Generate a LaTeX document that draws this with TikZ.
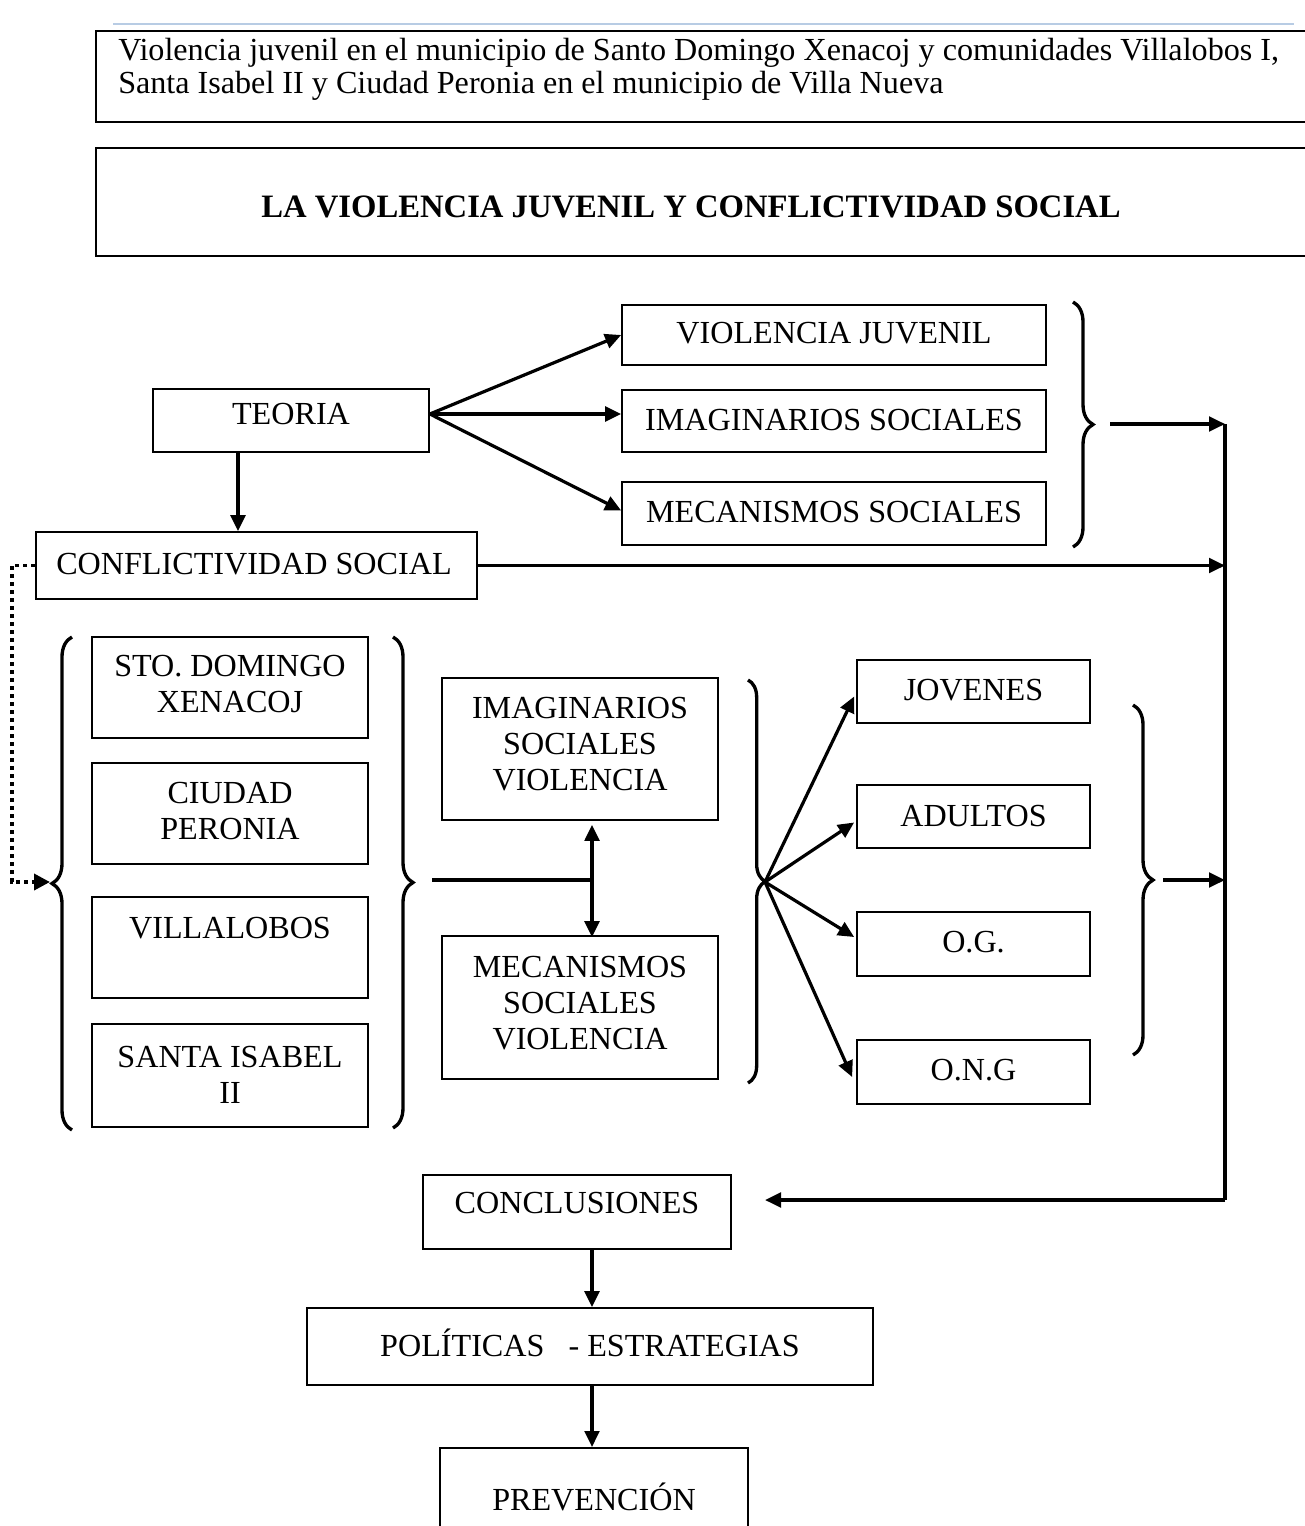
\documentclass[tikz,border=0pt]{standalone}
\usepackage{fontspec}
\setmainfont{Liberation Serif}
\usetikzlibrary{arrows.meta,decorations.pathreplacing,calc}
\definecolor{lineblue}{RGB}{184,204,228}
\begin{document}
\begin{tikzpicture}[x=0.75pt,y=-0.75pt,
  bx/.style 2 args={draw, line width=1.3pt, inner sep=0pt, minimum width=#1*0.75pt, minimum height=#2*0.75pt},
  txt/.style={font=\fontsize{24.1}{27}\selectfont, align=center, inner sep=0pt},
  stxt/.style={txt, text height=15.95pt, text depth=0pt},
  arr/.style={line width=2.4pt, -{Triangle[length=12pt,width=11pt]}},
  conn/.style={line width=2.4pt},
  brc/.style={line width=2.5pt, decorate, decoration={brace, amplitude=#1}},
  brc/.default=15pt,
  dotline/.style={line width=2.8pt, dash pattern=on 2.8pt off 3.2pt, -{Triangle[length=12pt,width=12pt]}}
]
\useasboundingbox (0,0) rectangle (1304,1526);
\fill[white] (0,0) rectangle (1304,1526);

% header boxes
\draw[lineblue, line width=2pt] (113,24) -- (1294,24);
\node[bx={1240}{91}, anchor=north west] (hdr) at (95,30) {};
\node[txt, align=left, anchor=north west, font=\fontsize{24.1}{25}\selectfont] (thdr) at (118,38)
  {Violencia juvenil en el municipio de Santo Domingo Xenacoj y comunidades Villalobos I,\\Santa Isabel II y Ciudad Peronia en el municipio de Villa Nueva};
\node[bx={1240}{108}, anchor=north west] (ttl) at (95,147) {};
\node[txt, text height=16.2pt, text depth=0pt, font=\fontsize{24.5}{27}\selectfont\bfseries] (tttl) at (691,207) {LA VIOLENCIA JUVENIL Y CONFLICTIVIDAD SOCIAL};

% theory section
\node[bx={276}{63}] (teoria) at (291,420.5) {};
\node[stxt] (tteoria) at (291,414) {TEORIA};
\node[bx={424}{60}] (vj) at (834,335) {};
\node[stxt] (tvj) at (834,333) {VIOLENCIA JUVENIL};
\node[bx={424}{62}] (is) at (834,421) {};
\node[stxt] (tis) at (834,420) {IMAGINARIOS SOCIALES};
\node[bx={424}{63}] (ms) at (834,513.5) {};
\node[stxt] (tms) at (834,512) {MECANISMOS SOCIALES};
\node[bx={441}{67}] (cs) at (256.5,565.5) {};
\node[stxt] (tcs) at (254,564) {CONFLICTIVIDAD SOCIAL};

% left group
\node[bx={276}{101}] (sto) at (230,687.5) {};
\node[txt] (tsto) at (230,684) {STO. DOMINGO\\XENACOJ};
\node[bx={276}{101}] (ciu) at (230,813.5) {};
\node[txt] (tciu) at (230,811) {CIUDAD\\PERONIA};
\node[bx={276}{101}] (vil) at (230,947.5) {};
\node[stxt] (tvil) at (230,928) {VILLALOBOS};
\node[bx={276}{103}] (sis) at (230,1075.5) {};
\node[txt] (tsis) at (230,1075) {SANTA ISABEL\\II};

% middle
\node[bx={276}{142}] (imsv) at (580,749) {};
\node[txt] (timsv) at (580,744) {IMAGINARIOS\\SOCIALES\\VIOLENCIA};
\node[bx={276}{143}] (mesv) at (580,1007.5) {};
\node[txt] (tmesv) at (580,1003.5) {MECANISMOS\\SOCIALES\\VIOLENCIA};

% actors
\node[bx={233}{63}] (jov) at (973.5,691.5) {};
\node[stxt] (tjov) at (973.5,690) {JOVENES};
\node[bx={233}{63}] (adu) at (973.5,816.5) {};
\node[stxt] (tadu) at (973.5,816) {ADULTOS};
\node[bx={233}{64}] (og) at (973.5,944) {};
\node[stxt] (tog) at (973.5,942) {O.G.};
\node[bx={233}{64}] (ong) at (973.5,1072) {};
\node[stxt] (tong) at (973.5,1070) {O.N.G};

% bottom chain
\node[bx={308}{74}] (conc) at (577,1212) {};
\node[stxt] (tconc) at (577,1203) {CONCLUSIONES};
\node[bx={566}{77}] (pol) at (590,1346.5) {};
\node[stxt] (tpol) at (590,1346) {POLÍTICAS\ \ \ - ESTRATEGIAS};
\node[bx={308}{160}, anchor=north] (prev) at (594,1447) {};
\node[stxt] (tprev) at (594,1500) {PREVENCIÓN};

% braces
\draw[brc] (1073,302) -- (1073,547);
\draw[brc] (72,1130) -- (72,637);
\draw[brc] (393,637) -- (393,1128);
\draw[brc=13pt] (748,680) -- (748,1083);
\draw[brc] (1133,705) -- (1133,1055);

% coordinates
\coordinate (v1) at (1225,424);
\coordinate (v2) at (1225,1200);
\coordinate (b1) at (1110,424);
\coordinate (g1) at (432,880);
\coordinate (g2) at (592,880);
\coordinate (m) at (765,882);
\coordinate (r) at (1163,880);
\coordinate (lbt) at (50,882);
\coordinate (dx) at (12,700);
\coordinate (ce) at (765,1200);
\coordinate (td) at ($(teoria.south)+(-53,0)$);

% connectors
\draw[arr] (teoria.east |- tteoria) -- (vj.west);
\draw[arr] (teoria.east |- tteoria) -- (is.west |- tteoria);
\draw[arr] (teoria.east |- tteoria) -- ($(ms.west)+(0,-3)$);
\draw[arr] (td) -- (td |- cs.north);
\draw[arr] (b1) -- (v1);
\draw[arr] (cs.east) -- (cs.east -| v1);
\draw[conn] (v1) -- (v2);
\draw[arr] (v2) -- (ce);
\draw[dotline] (cs.west) -| (dx) |- (lbt);
\draw[conn] (g1) -- (g2);
\draw[line width=2.4pt, {Triangle[length=12pt,width=11pt]}-{Triangle[length=12pt,width=11pt]}]
  ($(imsv.south)+(12,4)$) -- ($(mesv.north)+(12,2)$);
\draw[arr] (m) -- ($(jov.west)+(-2,5)$);
\draw[arr] (m) -- ($(adu.west)+(-2,6)$);
\draw[arr] (m) -- ($(og.west)+(-2,-7)$);
\draw[arr] (m) -- ($(ong.west)+(-4,5)$);
\draw[arr] (r) -- (r -| v1);
\draw[arr] (conc.south -| g2) -- (pol.north -| g2);
\draw[arr] (pol.south -| g2) -- (prev.north -| g2);
\end{tikzpicture}
\end{document}
